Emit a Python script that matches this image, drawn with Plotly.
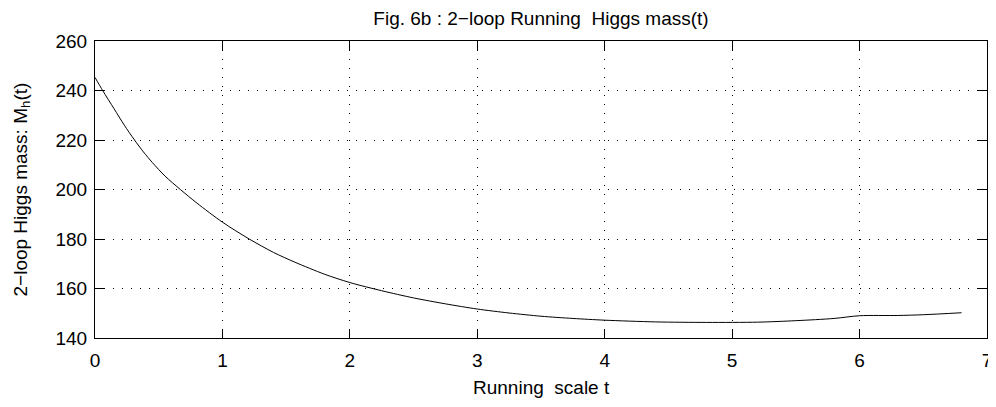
import plotly.graph_objects as go

# Running scale t and 2-loop Higgs mass values
t_vals = [0.0, 0.06, 0.15, 0.23, 0.31, 0.38, 0.45, 0.55, 0.67, 0.8, 1.0, 1.21, 1.4,
          1.57, 1.8, 2.0, 2.25, 2.5, 2.75, 3.0, 3.25, 3.5, 3.75, 4.0, 4.4, 4.8,
          5.2, 5.5, 5.8, 6.0, 6.3, 6.5, 6.8]
mh_vals = [245.3, 240.0, 232.6, 226.0, 220.0, 215.2, 210.9, 205.4, 200.0, 194.5,
           186.8, 180.0, 174.6, 170.6, 165.8, 162.4, 159.1, 156.2, 153.8, 151.7,
           150.1, 148.8, 147.9, 147.2, 146.5, 146.3, 146.4, 147.0, 147.9, 149.0,
           149.1, 149.4, 150.2]

x_ticks = [0, 1, 2, 3, 4, 5, 6, 7]
y_ticks = [140, 160, 180, 200, 220, 240, 260]

FONT = "Liberation Sans, Arial, Helvetica, sans-serif"

# the page body adds an 8px margin, so the figure is sized to the visible area
W, H = 988, 399
PL, PR, PT, PB = 87, 979, 33, 330  # plot box in figure pixels

fig = go.Figure()
fig.add_trace(go.Scatter(x=t_vals, y=mh_vals, mode="lines",
                         line=dict(color="black", width=1, shape="spline", smoothing=0.8),
                         showlegend=False))

axis_common = dict(
    showline=True, linecolor="black", linewidth=1, mirror="ticks",
    ticks="inside", ticklen=9, tickcolor="black", tickwidth=1,
    showgrid=True, gridcolor="black", gridwidth=1, griddash="1px,8px",
    zeroline=False, automargin=False,
    tickfont=dict(family=FONT, size=19, color="black"),
)

fig.update_xaxes(range=[0, 7], tickvals=x_ticks, ticktext=[str(v) for v in x_ticks],
                 ticklabelstandoff=5, **axis_common)
fig.update_yaxes(range=[140, 260], tickvals=y_ticks, ticktext=[str(v) for v in y_ticks],
                 ticklabelstandoff=3, **axis_common)

plot_h = PB - PT
plot_w = PR - PL
fig.update_layout(
    width=W, height=H,
    margin=dict(l=PL, r=W - PR, t=PT, b=H - PB, autoexpand=False),
    paper_bgcolor="white", plot_bgcolor="white",
    font=dict(family=FONT, size=19, color="black"),
    title=dict(text="Fig. 6b : 2−loop Running  Higgs mass(t)",
               x=0.5, xref="paper", xanchor="center",
               y=1 - 10 / H, yref="container", yanchor="middle",
               font=dict(family=FONT, size=19, color="black")),
    annotations=[
        dict(text="Running  scale t", xref="paper", yref="paper",
             x=0.5, y=-(379 - PB) / plot_h, xanchor="center", yanchor="middle",
             showarrow=False, font=dict(family=FONT, size=19, color="black")),
        dict(text="2−loop Higgs mass: M<sub>h</sub>(t)", xref="paper", yref="paper",
             x=(13 - PL) / plot_w, y=0.5, xanchor="center", yanchor="middle",
             textangle=-90, showarrow=False,
             font=dict(family=FONT, size=19, color="black")),
    ],
)

fig.write_html("out.html")
